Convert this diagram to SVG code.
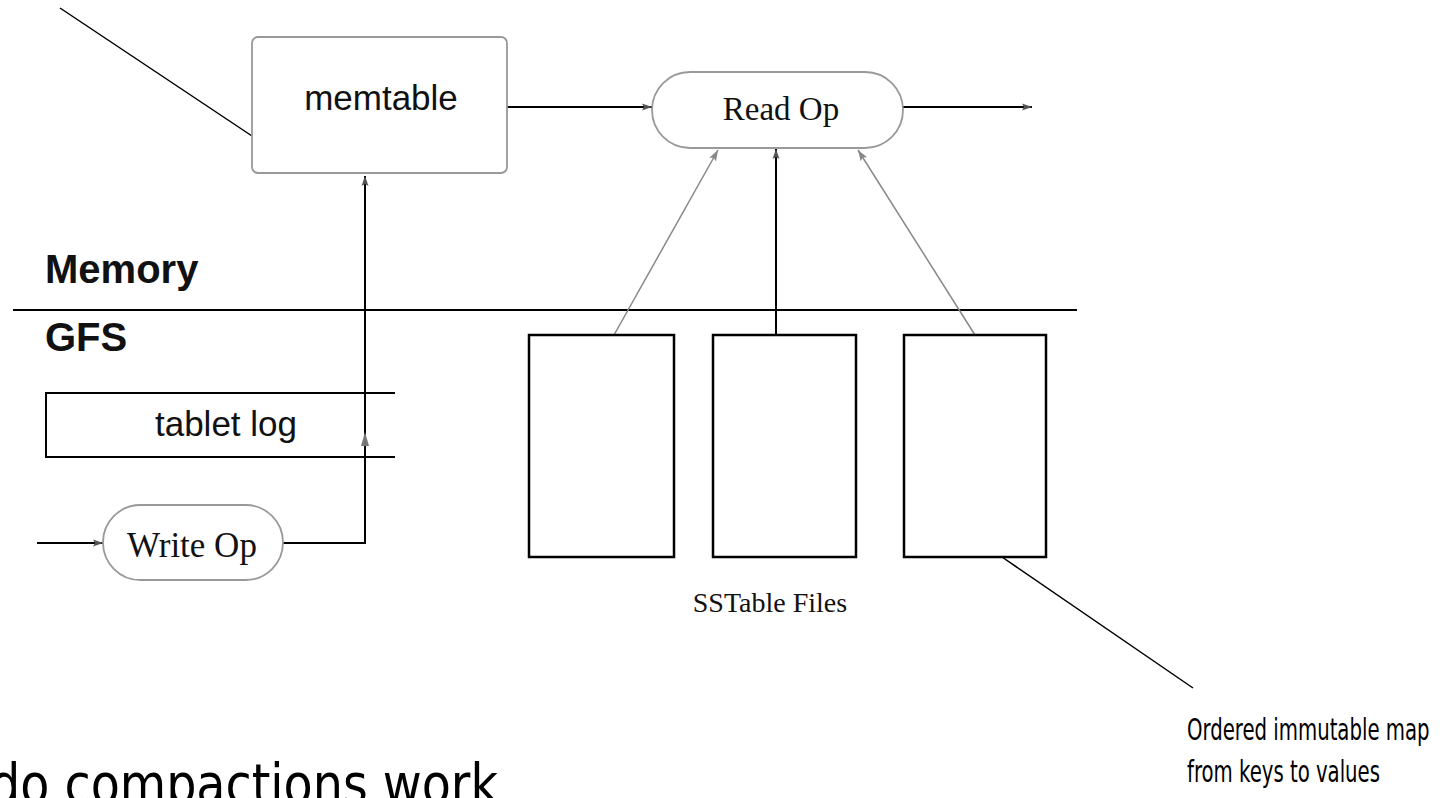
<svg xmlns="http://www.w3.org/2000/svg" width="1443" height="798" viewBox="0 0 1443 798">
<defs>
<style>
.sans{font-family:"Liberation Sans",Arial,sans-serif;fill:#111;}
.serif{font-family:"Liberation Serif","Times New Roman",serif;fill:#111;}
.tah{font-family:"DejaVu Sans Condensed","DejaVu Sans",sans-serif;font-stretch:condensed;fill:#000;}
.bold{font-weight:bold;}
.ln{stroke:#000;stroke-width:2;fill:none;}
.thin{stroke:#000;stroke-width:1.5;fill:none;}
.gray{stroke:#888;stroke-width:1.5;fill:none;}
.box{fill:#fff;stroke:#000;stroke-width:2.5;}
.soft{fill:#fff;stroke:#999;stroke-width:1.8;}
</style>
<marker id="ah" viewBox="0 0 10 10" refX="10" refY="5" markerWidth="10" markerHeight="10" markerUnits="userSpaceOnUse" orient="auto">
<path d="M0,1.5 L10,5 L0,8.5 L2,5 Z" fill="#555"/>
</marker>
<marker id="ahg" viewBox="0 0 10 10" refX="10" refY="5" markerWidth="11" markerHeight="11" markerUnits="userSpaceOnUse" orient="auto">
<path d="M0,1.5 L10,5 L0,8.5 L2,5 Z" fill="#888"/>
</marker>
</defs>
<rect width="1443" height="798" fill="#fff"/>

<g id="layers">
<line x1="13" y1="310" x2="1077" y2="310" class="ln"/>
<text x="45" y="283" class="sans bold" font-size="40">Memory</text>
<text x="45" y="351" class="sans bold" font-size="40">GFS</text>
</g>

<g id="connectors">
<line x1="60" y1="8" x2="252" y2="136" class="thin"/>
<line x1="1002" y1="557" x2="1193" y2="688" class="thin"/>
<line x1="507" y1="107" x2="652" y2="107" class="ln" marker-end="url(#ah)"/>
<line x1="903" y1="107" x2="1032" y2="107" class="ln" marker-end="url(#ah)"/>
<line x1="37" y1="543" x2="103" y2="543" class="ln" marker-end="url(#ah)"/>
<polyline points="283,543 365,543 365,176" class="ln" marker-end="url(#ah)"/>
<path d="M361,446 L365,432 L369,446 Z" fill="#777"/>
<line x1="776" y1="335" x2="776" y2="149" class="ln" marker-end="url(#ah)"/>
<line x1="614" y1="335" x2="718" y2="150" class="gray" marker-end="url(#ahg)"/>
<line x1="975" y1="335" x2="858" y2="150" class="gray" marker-end="url(#ahg)"/>
</g>

<g id="memtable">
<rect x="252" y="37" width="255" height="136" rx="6" class="soft"/>
<text x="381" y="110" class="sans" font-size="35" text-anchor="middle">memtable</text>
</g>

<g id="readop">
<rect x="652" y="72" width="251" height="76" rx="38" class="soft"/>
<text x="781" y="120" class="serif" font-size="33" text-anchor="middle">Read Op</text>
</g>

<g id="tabletlog">
<polyline points="395,393 46,393 46,457 395,457" class="ln"/>
<text x="226" y="436" class="sans" font-size="35" text-anchor="middle">tablet log</text>
</g>

<g id="writeop">
<rect x="103" y="505" width="180" height="75" rx="37.5" class="soft"/>
<text x="192" y="557" class="serif" font-size="35" text-anchor="middle">Write Op</text>
</g>

<g id="sstables">
<rect x="529" y="335" width="145" height="222" class="box"/>
<rect x="713" y="335" width="143" height="222" class="box"/>
<rect x="904" y="335" width="142" height="222" class="box"/>
<text x="770" y="612" class="serif" font-size="28" text-anchor="middle">SSTable Files</text>
</g>

<g id="notes">
<text transform="translate(1187,740) scale(0.73,1)" class="tah" font-size="30">Ordered immutable map</text>
<text transform="translate(1187,782) scale(0.73,1)" class="tah" font-size="30">from keys to values</text>
<text x="-10" y="803" class="tah" font-size="56" textLength="508" lengthAdjust="spacingAndGlyphs">do compactions work</text>
</g>
</svg>
